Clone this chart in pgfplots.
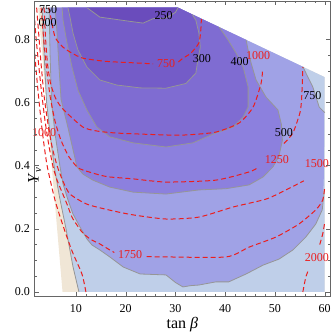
\documentclass[border=0pt]{standalone}
\usepackage{fontspec}
\setmainfont{Liberation Serif}
\usepackage{pgfplots}
\pgfplotsset{compat=1.18}
\definecolor{cA}{RGB}{106,76,188}
\definecolor{cB}{RGB}{116,92,200}
\definecolor{cC}{RGB}{127,108,210}
\definecolor{cD}{RGB}{140,128,222}
\definecolor{cE}{RGB}{160,162,230}
\definecolor{cF}{RGB}{191,207,233}
\definecolor{cG}{RGB}{240,230,214}
\definecolor{cline}{RGB}{150,150,150}
\definecolor{cred}{RGB}{235,30,30}
\begin{document}
\begin{tikzpicture}
\begin{axis}[
 scale only axis, width=221.5pt, height=221.25pt,
 xmin=1.7, xmax=61.06, ymin=-0.0127, ymax=0.921,
 clip mode=individual,
 xtick={10,20,...,60}, ytick={0,0.2,0.4,0.6,0.8},
 minor x tick num=4, minor y tick num=3,
 yticklabel style={/pgf/number format/.cd,fixed,fixed zerofill,precision=1},
 /pgf/number format/assume math mode=true,
 tick label style={font=\fontsize{9}{10}\selectfont},
 axis line style={draw=black!60}, tick style={draw=black!60},
 major tick length=3pt, minor tick length=1.8pt,
 xtick pos=both, ytick pos=both, tick align=inside,
 xlabel={tan \textit{β}}, ylabel={\textit{Y}\textsubscript{\textit{ν}}},
 label style={font=\fontsize{12}{14}\selectfont},
 xlabel style={at={(axis description cs:0.5,0)},anchor=center,yshift=-21.75pt},
 ylabel style={at={(axis description cs:0,0.5)},anchor=center,xshift=-20pt},
 xticklabel style={yshift=-3pt},
 axis on top,
]
\coordinate (SW) at (rel axis cs:0,0);
\coordinate (NE) at (rel axis cs:1,1);
% filled regions
\addplot[fill=cG,draw=none] coordinates {(2.4,0.9) (7.3,0) (60,0) (60,0.68) (30.5,0.9)};
\addplot[fill=cF,draw=none] coordinates {(3.2,0.9) (3.6,0.75) (4.1,0.6) (4.8,0.5) (5.6,0.4) (6.7,0.3) (8.0,0.2) (9.4,0.08) (10.6,0) (60,0) (60,0.68) (30.5,0.9)};
\addplot[fill=cE,draw=none] coordinates {(4.6,0.9) (4.8,0.75) (5.1,0.6) (5.8,0.5) (6.8,0.396) (7.4,0.342) (8.4,0.291) (9.4,0.247) (10.8,0.206) (12.2,0.168) (13.2,0.149) (14.8,0.133) (16.8,0.111) (19.5,0.079) (22.9,0.057) (28.1,0.054) (30,0.03) (31.5,0.016) (33,0.02) (34.7,0.022) (38.1,0.032) (40.7,0.032) (44.2,0.057) (47.6,0.085) (50.8,0.104) (53.6,0.133) (56.2,0.174) (58.2,0.215) (59.5,0.26) (59.8,0.35) (59.85,0.45) (59.9,0.57) (58.9,0.585) (57.6,0.649) (55.6,0.713) (30.5,0.9)};
\addplot[fill=cD,draw=none] coordinates {(5.8,0.9) (6.2,0.82) (6.6,0.71) (7.0,0.61) (8.4,0.52) (10.2,0.396) (11.4,0.373) (13.4,0.354) (16.8,0.332) (21.5,0.316) (28.1,0.31) (34.7,0.323) (40.2,0.327) (44.8,0.339) (47.6,0.364) (49.6,0.396) (50.8,0.43) (51.5,0.48) (51.3,0.53) (50.6,0.576) (48.2,0.617) (46.2,0.671) (45.2,0.725) (44.6,0.766) (44.2,0.798) (30.5,0.9)};
\addplot[fill=cC,draw=none] coordinates {(7.2,0.9) (7.4,0.861) (8.2,0.788) (9.2,0.712) (10.4,0.639) (12.2,0.576) (14.2,0.522) (16.8,0.491) (21.5,0.472) (28.1,0.459) (33.5,0.472) (38.1,0.503) (41.6,0.522) (43.6,0.554) (44.6,0.585) (44.6,0.649) (43.6,0.712) (42.2,0.756) (40.6,0.797) (38.8,0.838) (30.5,0.9)};
\addplot[fill=cB,draw=none] coordinates {(8.4,0.9) (8.8,0.87) (9.4,0.82) (10.4,0.766) (12.2,0.712) (14.8,0.671) (18.2,0.655) (22.9,0.646) (28.1,0.645) (32.1,0.66) (34.1,0.693) (34.5,0.735) (35,0.775) (34.7,0.82) (34.1,0.86) (33.4,0.878) (30.5,0.9)};
\addplot[fill=cA,draw=none] coordinates {(12.2,0.9) (14.8,0.87) (20.2,0.858) (23.5,0.851) (25.5,0.865) (28.1,0.867) (30,0.885) (30.5,0.9)};
% gray contour lines
\addplot[cline,line width=0.6pt] coordinates {(3.2,0.9) (3.6,0.75) (4.1,0.6) (4.8,0.5) (5.6,0.4) (6.7,0.3) (8.0,0.2) (9.4,0.08) (10.6,0)};
\addplot[cline,line width=0.6pt] coordinates {(4.6,0.9) (4.8,0.75) (5.1,0.6) (5.8,0.5) (6.8,0.396) (7.4,0.342) (8.4,0.291) (9.4,0.247) (10.8,0.206) (12.2,0.168) (13.2,0.149) (14.8,0.133) (16.8,0.111) (19.5,0.079) (22.9,0.057) (28.1,0.054) (30,0.03) (31.5,0.016) (33,0.02) (34.7,0.022) (38.1,0.032) (40.7,0.032) (44.2,0.057) (47.6,0.085) (50.8,0.104) (53.6,0.133) (56.2,0.174) (58.2,0.215) (59.5,0.26) (59.9,0.32)};
\addplot[cline,line width=0.6pt] coordinates {(60,0.568) (58.9,0.585) (57.6,0.649) (55.6,0.713)};
\addplot[cline,line width=0.6pt] coordinates {(5.8,0.9) (6.2,0.82) (6.6,0.71) (7.0,0.61) (8.4,0.52) (10.2,0.396) (11.4,0.373) (13.4,0.354) (16.8,0.332) (21.5,0.316) (28.1,0.31) (34.7,0.323) (40.2,0.327) (44.8,0.339) (47.6,0.364) (49.6,0.396) (50.8,0.43) (51.5,0.48) (51.3,0.53) (50.6,0.576) (48.2,0.617) (46.2,0.671) (45.2,0.725) (44.6,0.766) (44.2,0.798)};
\addplot[cline,line width=0.6pt] coordinates {(7.2,0.9) (7.4,0.861) (8.2,0.788) (9.2,0.712) (10.4,0.639) (12.2,0.576) (14.2,0.522) (16.8,0.491) (21.5,0.472) (28.1,0.459) (33.5,0.472) (38.1,0.503) (41.6,0.522) (43.6,0.554) (44.6,0.585) (44.6,0.649) (43.6,0.712) (42.2,0.756) (40.6,0.797) (38.8,0.838)};
\addplot[cline,line width=0.6pt] coordinates {(8.4,0.9) (8.8,0.87) (9.4,0.82) (10.4,0.766) (12.2,0.712) (14.8,0.671) (18.2,0.655) (22.9,0.646) (28.1,0.645) (32.1,0.66) (34.1,0.693) (34.5,0.735) (35,0.775) (34.7,0.82) (34.1,0.86) (33.4,0.878)};
\addplot[cline,line width=0.6pt] coordinates {(12.2,0.9) (14.8,0.87) (20.2,0.858) (23.5,0.851) (25.5,0.865) (28.1,0.867) (30,0.885) (30.5,0.9)};
% red dashed contours
\pgfplotsset{rd/.style={cred,line width=0.75pt,dash pattern=on 3.75pt off 2.25pt,smooth,tension=0.4}}
\addplot[rd] coordinates {(4.5,0.9) (4.8,0.88) (5.8,0.807) (7.4,0.775) (9.2,0.756) (11.4,0.74) (16,0.73) (22,0.725) (25.5,0.722)};
\addplot[rd] coordinates {(30.6,0.728) (31.5,0.74) (33.1,0.756) (34.7,0.788) (35.1,0.83) (35.2,0.864)};
\addplot[rd] coordinates {(3.6,0.9) (3.9,0.8) (4.3,0.72) (4.9,0.66) (5.8,0.617) (6.8,0.59) (8.2,0.566) (11.4,0.522) (14,0.51) (18.2,0.503) (28,0.497) (32.1,0.497) (38.1,0.506) (42.8,0.535) (45.6,0.585) (47.2,0.66) (47.5,0.7)};
\addplot[rd] coordinates {(3.0,0.9) (3.4,0.82) (4,0.72) (4.8,0.62) (5.8,0.54) (7,0.48) (8.5,0.43) (10.2,0.396) (11.4,0.386) (14.8,0.37) (16.8,0.364) (21.5,0.358) (28.1,0.348) (38.1,0.354) (44.8,0.38) (46.6,0.394)};
\addplot[rd] coordinates {(51.8,0.47) (53.6,0.503) (55,0.566) (55.3,0.6) (55.5,0.66) (55.6,0.712)};
\addplot[rd] coordinates {(2.1,0.9) (2.5,0.82) (3.0,0.72) (3.6,0.62) (4.3,0.54) (5.2,0.46) (6.2,0.4) (7.4,0.35) (8.8,0.31) (12.2,0.278) (16.8,0.259) (21.5,0.244) (28.1,0.231) (34.7,0.237) (41.6,0.269) (48.2,0.294) (52.2,0.323) (55.8,0.352)};
\addplot[rd] coordinates {(1.7,0.86) (2.0,0.8) (2.5,0.72) (3.1,0.63) (3.8,0.54) (4.6,0.46) (5.4,0.396) (6.2,0.354) (7.2,0.316) (8.2,0.278) (9.2,0.237) (10.2,0.212) (11.2,0.19) (12.8,0.168) (14.8,0.152) (16.8,0.133) (17.7,0.125)};
\addplot[rd] coordinates {(24.2,0.112) (28.1,0.111) (40.2,0.111) (44.8,0.142) (50.2,0.174) (54.8,0.215) (58.2,0.26) (59.6,0.291) (60,0.332)};
\addplot[rd] coordinates {(12.0,0) (11.2,0.057) (9.2,0.13) (7.4,0.21) (5.8,0.29) (4.2,0.40) (3.3,0.5) (2.6,0.6) (2.0,0.7) (1.7,0.76)};
\addplot[rd] coordinates {(55.6,0) (56.2,0.047) (56.8,0.072)};
\addplot[rd] coordinates {(59.0,0.15) (59.6,0.184) (60,0.22)};
% labels
\begin{scope}[every node/.style={font=\fontsize{9}{10}\selectfont,inner sep=0pt}]
\node at (axis cs:27.6,0.874) {250};
\node at (axis cs:35.3,0.74) {300};
\node at (axis cs:42.9,0.73) {400};
\node at (axis cs:51.8,0.506) {500};
\node at (axis cs:57.5,0.623) {750};
\node at (axis cs:4.4,0.893) {750};
\node at (axis cs:4.3,0.853) {000};
\node[text=cred] at (axis cs:28.1,0.722) {750};
\node[text=cred] at (axis cs:46.6,0.748) {1000};
\node[text=cred] at (axis cs:50.4,0.42) {1250};
\node[text=cred,anchor=east] at (axis cs:60.9,0.405) {1500};
\node[text=cred] at (axis cs:20.9,0.117) {1750};
\node[text=cred,anchor=east] at (axis cs:60.9,0.11) {2000};
\node[text=cred] at (axis cs:3.6,0.503) {1000};
\end{scope}
\end{axis}
\pgfresetboundingbox
\path ([xshift=-26pt,yshift=-28.5pt]SW) rectangle ([xshift=1.5pt,yshift=0.75pt]NE);
\end{tikzpicture}
\end{document}
